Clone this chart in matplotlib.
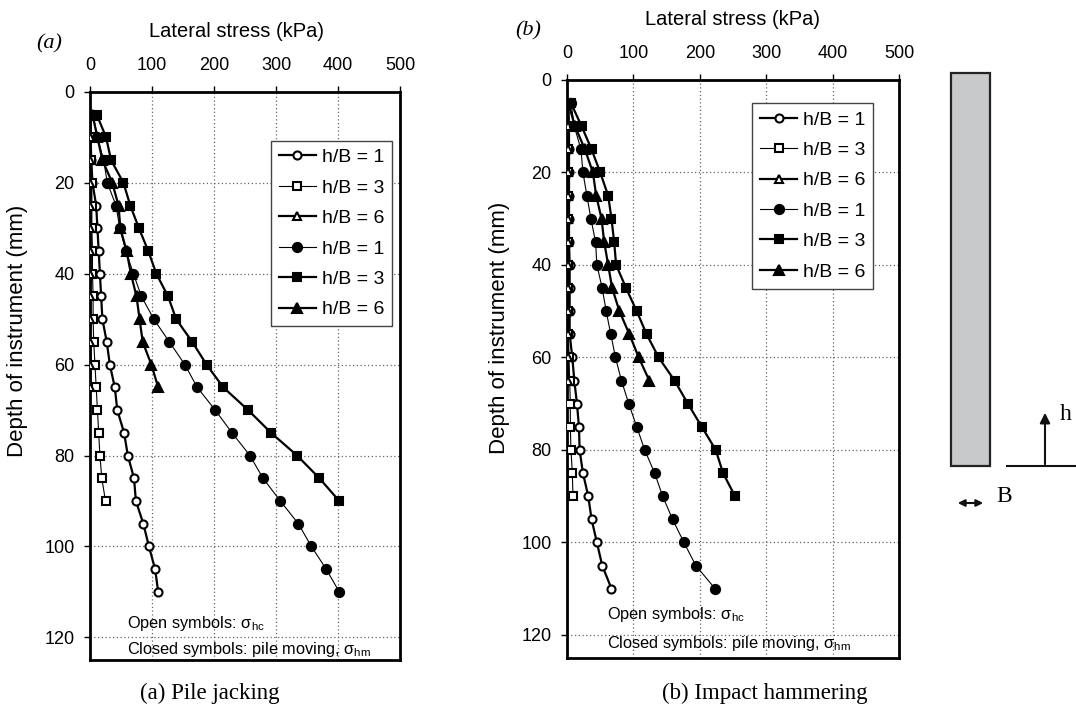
import matplotlib
matplotlib.use("Agg")
import matplotlib.pyplot as plt
from matplotlib.patches import Rectangle

plt.rcParams["font.family"] = ["Liberation Sans", "DejaVu Sans"]
plt.rcParams["mathtext.fontset"] = "custom"
plt.rcParams["mathtext.rm"] = "Liberation Sans"
plt.rcParams["mathtext.it"] = "Liberation Sans:italic"

# depths (mm)
depth_110 = [5, 10, 15, 20, 25, 30, 35, 40, 45, 50, 55, 60, 65, 70, 75, 80, 85, 90, 95, 100, 105, 110]
depth_90 = [5, 10, 15, 20, 25, 30, 35, 40, 45, 50, 55, 60, 65, 70, 75, 80, 85, 90]
depth_65 = [5, 10, 15, 20, 25, 30, 35, 40, 45, 50, 55, 60, 65]

# (a) pile jacking - lateral stress (kPa)
a_open_1 = [0, 1, 2, 4, 10, 12, 14, 16, 18, 20, 27, 32, 40, 44, 55, 61, 71, 74, 86, 95, 105, 110]
a_open_3 = [1, 2, 2, 3, 3, 3, 4, 4, 5, 5, 6, 8, 10, 12, 14, 16, 19, 25]
a_open_6 = [0, 0, 0.5, 0.5, 0.5, 0.5, 0.5, 0.5, 0.5, 0.5, 0.5, 0.5, 0.5]
a_closed_1 = [5, 12, 22, 28, 42, 48, 58, 70, 83, 103, 128, 153, 173, 202, 229, 258, 279, 307, 336, 357, 381, 402]
a_closed_3 = [11, 26, 34, 54, 65, 79, 94, 107, 126, 139, 165, 188, 215, 255, 292, 334, 370, 402]
a_closed_6 = [4, 12, 20, 36, 46, 49, 59, 66, 75, 80, 85, 99, 110]

# (b) impact hammering - lateral stress (kPa)
b_open_1 = [2, 3, 3, 3, 3, 3, 3, 4, 4, 4, 4, 8, 11, 15, 18, 19, 24, 32, 37, 45, 53, 67]
b_open_3 = [1, 1, 1, 1, 1, 1, 1, 1, 1, 1, 2, 3, 4, 5, 5, 6, 8, 9]
b_open_6 = [1, 1, 1, 1, 1, 1, 1, 1, 1, 1, 1, 1, 1]
b_closed_1 = [6, 11, 21, 24, 30, 36, 43, 45, 53, 59, 66, 73, 82, 93, 105, 117, 132, 144, 159, 176, 194, 223]
b_closed_3 = [6, 22, 37, 50, 62, 67, 71, 74, 89, 105, 120, 138, 162, 182, 203, 224, 235, 253]
b_closed_6 = [2, 12, 27, 39, 44, 52, 56, 62, 68, 79, 94, 108, 124]

labels = ["h/B = 1", "h/B = 3", "h/B = 6", "h/B = 1", "h/B = 3", "h/B = 6"]

THICK = 1.6
THIN = 0.8


def draw_panel(ax, series):
    # marker, face, line width, marker size
    styles = [
        ("o", "white", THICK, 5.8),
        ("s", "white", THIN, 5.4),
        ("^", "white", THICK, 5.8),
        ("o", "black", THIN, 6.6),
        ("s", "black", THICK, 6.3),
        ("^", "black", THICK, 6.6),
    ]
    for (x, y), (m, fc, lw, ms), lab in zip(series, styles, labels):
        ax.plot(x, y, color="black", lw=lw, marker=m, ms=ms, mfc=fc,
                mec="black", mew=1.5, label=lab, zorder=3)

    ax.set_xlim(0, 500)
    ax.set_ylim(125, 0)
    ax.set_xticks([0, 100, 200, 300, 400, 500])
    ax.set_yticks([0, 20, 40, 60, 80, 100, 120])
    ax.xaxis.tick_top()
    ax.tick_params(axis="x", labelsize=13, length=4, width=1, pad=9, direction="out")
    ax.tick_params(axis="y", labelsize=13, length=4, width=1, pad=7, direction="out")
    ax.grid(True, ls=(0, (1, 2)), color="#666666", lw=0.9)
    ax.set_axisbelow(True)
    for sp in ax.spines.values():
        sp.set_linewidth(2)
    ax.set_ylabel("Depth of instrument (mm)", fontsize=16)
    ax.set_xlabel("Lateral stress (kPa)", fontsize=14.5)
    ax.xaxis.set_label_position("top")
    ax.xaxis.label.set_va("center")


fig = plt.figure(figsize=(10.76, 7.13), dpi=100)
ax1 = fig.add_axes([90 / 1076, 53 / 713, 310 / 1076, 568 / 713])
ax2 = fig.add_axes([567 / 1076, 55 / 713, 332 / 1076, 578 / 713])

draw_panel(ax1, [(a_open_1, depth_110), (a_open_3, depth_90), (a_open_6, depth_65),
                 (a_closed_1, depth_110), (a_closed_3, depth_90), (a_closed_6, depth_65)])
draw_panel(ax2, [(b_open_1, depth_110), (b_open_3, depth_90), (b_open_6, depth_65),
                 (b_closed_1, depth_110), (b_closed_3, depth_90), (b_closed_6, depth_65)])

for ax, anchor in [(ax1, (0.974, 0.914)), (ax2, (0.922, 0.96))]:
    leg = ax.legend(loc="upper right", bbox_to_anchor=anchor, borderaxespad=0,
                    fontsize=14, fancybox=False, framealpha=1, edgecolor="#444444",
                    handlelength=1.9, handletextpad=0.3, labelspacing=0.66,
                    borderpad=0.4)
    leg.get_frame().set_linewidth(1.0)

ax1.xaxis.set_label_coords(0.471, 1.107)
ax2.xaxis.set_label_coords(0.497, 1.104)
ax1.yaxis.set_label_coords(-0.2, 0.58)
ax2.yaxis.set_label_coords(-0.172, 0.571)

for ax, y1, y2 in [(ax1, 116.9, 122.6), (ax2, 115.7, 121.8)]:
    ax.text(60, y1, "Open symbols: σ$_{\\rm hc}$", fontsize=11.8, va="center", ha="left")
    ax.text(60, y2, "Closed symbols: pile moving, σ$_{\\rm hm}$", fontsize=11.8,
            va="center", ha="left")

serif = ["Liberation Serif", "DejaVu Serif"]
fig.text(49 / 1076, 1 - 44 / 713, "(a)", family=serif, style="italic", fontsize=16,
         ha="center", va="center")
fig.text(528 / 1076, 1 - 31 / 713, "(b)", family=serif, style="italic", fontsize=16,
         ha="center", va="center")
fig.text(210 / 1076, 1 - 693 / 713, "(a) Pile jacking", family=serif, fontsize=16.5,
         ha="center", va="center")
fig.text(765 / 1076, 1 - 693 / 713, "(b) Impact hammering", family=serif, fontsize=16.5,
         ha="center", va="center")

# pile sketch
sk = fig.add_axes([0, 0, 1, 1], zorder=-1)
sk.set_xlim(0, 1076)
sk.set_ylim(713, 0)
sk.axis("off")
sk.add_patch(Rectangle((951, 73), 39, 393, fc="#c8c9cb", ec="#222222", lw=1.6))
sk.plot([1007, 1076], [466, 466], color="#111111", lw=1.5)
sk.annotate("", xy=(1045, 410), xytext=(1045, 467),
            arrowprops=dict(arrowstyle="-|>", lw=1.5, color="#111111", mutation_scale=15))
sk.annotate("", xy=(955, 503), xytext=(986, 503),
            arrowprops=dict(arrowstyle="<|-|>", lw=1.5, color="#111111", mutation_scale=10))
sk.text(1066, 415, "h", family=serif, fontsize=17, ha="center", va="center")
sk.text(1004, 496, "B", family=serif, fontsize=17, ha="center", va="center")

fig.savefig("out.png", dpi=100)
